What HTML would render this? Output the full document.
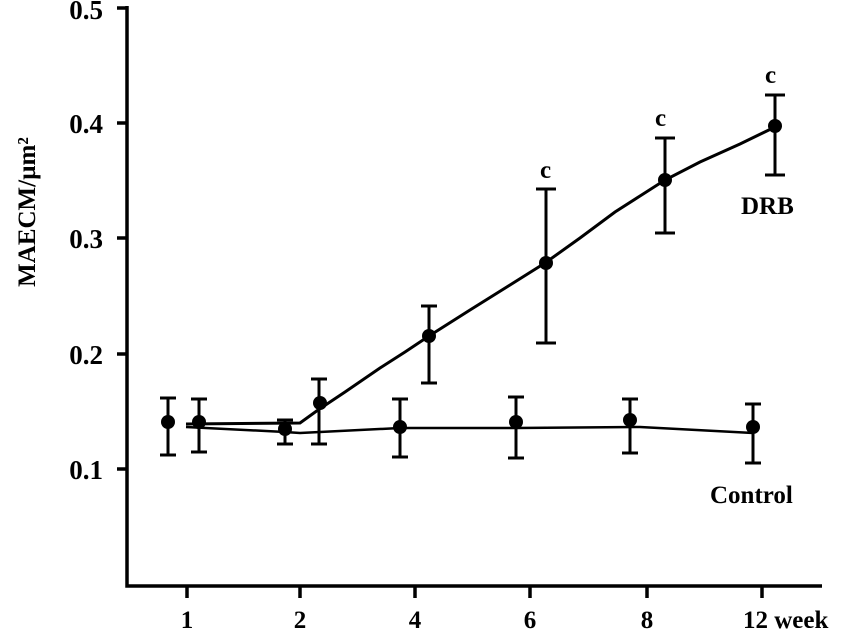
<!DOCTYPE html>
<html><head><style>body{margin:0;background:#fff}svg{display:block}text{font-family:"Liberation Serif",serif;font-weight:bold;fill:#000}</style></head>
<body>
<svg width="841" height="630" viewBox="0 0 841 630">
<g stroke="#000" stroke-width="3.5" fill="none">
<polyline points="127,6 127,586 822,586"/>
<line x1="117" y1="8" x2="127" y2="8"/><line x1="117" y1="123" x2="127" y2="123"/><line x1="117" y1="238" x2="127" y2="238"/><line x1="117" y1="354" x2="127" y2="354"/><line x1="117" y1="469" x2="127" y2="469"/>
<line x1="187" y1="586" x2="187" y2="598"/><line x1="300" y1="586" x2="300" y2="598"/><line x1="415" y1="586" x2="415" y2="598"/><line x1="530" y1="586" x2="530" y2="598"/><line x1="647" y1="586" x2="647" y2="598"/><line x1="762" y1="586" x2="762" y2="598"/>
</g>
<g font-size="27">
<text x="103" y="19" text-anchor="end">0.5</text><text x="103" y="133" text-anchor="end">0.4</text><text x="103" y="248" text-anchor="end">0.3</text><text x="103" y="364" text-anchor="end">0.2</text><text x="103" y="479" text-anchor="end">0.1</text>
</g>
<g font-size="25">
<text x="187" y="628" text-anchor="middle">1</text><text x="300" y="628" text-anchor="middle">2</text><text x="415" y="628" text-anchor="middle">4</text><text x="530" y="628" text-anchor="middle">6</text><text x="647" y="628" text-anchor="middle">8</text><text x="743" y="628">12 week</text>
<text transform="translate(35,212) rotate(-90)" text-anchor="middle" font-size="25">MAECM/µm²</text>
<text x="741" y="214">DRB</text><text x="710" y="503">Control</text>
<text x="540" y="178">c</text><text x="655" y="126">c</text><text x="765" y="83">c</text>
</g>
<g stroke="#000" fill="none">
<polyline stroke-width="3" points="186,424 300,423 318,410 345,392 380,368 405,352 429,336 470,310 510,285 545,263 580,238 615,212 640,196 665,180 700,162 740,144 775,127"/>
<polyline stroke-width="2.5" points="186,427 285,432 300,433 400,428 516,428 640,427 753,433"/>
</g>
<g stroke="#000" stroke-width="3">
<path d="M168,398V455M160,398H176M160,455H176"/>
<path d="M199,399V452M191,399H207M191,452H207"/>
<path d="M285,420V444M277,420H293M277,444H293"/>
<path d="M400,399V457M392,399H408M392,457H408"/>
<path d="M516,397V458M508,397H524M508,458H524"/>
<path d="M630,399V453M622,399H638M622,453H638"/>
<path d="M753,404V463M745,404H761M745,463H761"/>
<path d="M319,379V444M311,379H327M311,444H327"/>
<path d="M429,306V383M421,306H437M421,383H437"/>
<path d="M546,189V343M536,189H556M536,343H556"/>
<path d="M665,138V233M655,138H675M655,233H675"/>
<path d="M775,95V175M765,95H785M765,175H785"/>
</g>
<g fill="#000">
<circle cx="168" cy="422" r="7"/><circle cx="199" cy="422" r="7"/><circle cx="285" cy="429" r="7"/><circle cx="400" cy="427" r="7"/><circle cx="516" cy="422" r="7"/><circle cx="630" cy="420" r="7"/><circle cx="753" cy="427" r="7"/>
<circle cx="320" cy="403" r="7"/><circle cx="429" cy="336" r="7"/><circle cx="546" cy="263" r="7"/><circle cx="665" cy="180" r="7"/><circle cx="775" cy="126" r="7"/>
</g>
</svg>
</body></html>
